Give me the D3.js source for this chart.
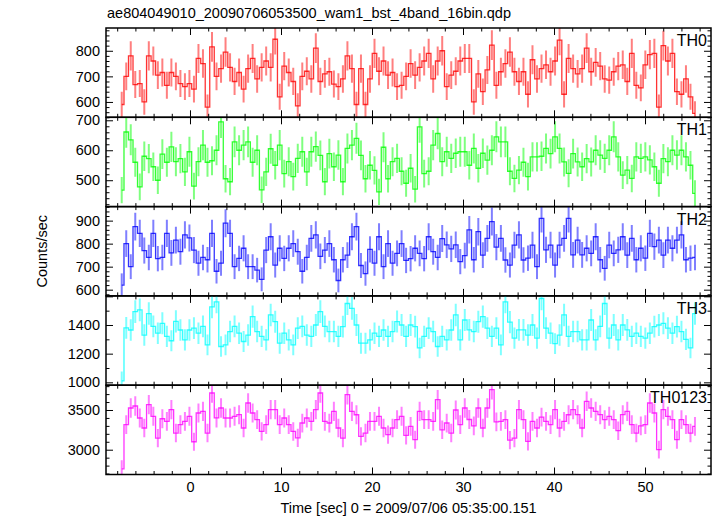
<!DOCTYPE html>
<html><head><meta charset="utf-8">
<script src="https://cdn.jsdelivr.net/npm/d3@7"></script>
<style>
html,body{margin:0;padding:0;background:#fff;}
svg text{font-family:"Liberation Sans",Arial,Helvetica,sans-serif;fill:#000;}
</style></head>
<body>
<svg id="chart" width="717" height="516"></svg>
<script>
// ---------------- data ----------------
const title = "ae804049010_20090706053500_wam1_bst_4band_16bin.qdp";
const xTitle = "Time [sec] 0 = 2009/07/06 05:35:00.151";
const yTitle = "Counts/sec";
const panelNames = ["TH0", "TH1", "TH2", "TH3", "TH0123"];
const tStart = -7.75;      // left edge of first time bin (sec)
const binWidth = 0.496;    // bin width (sec)
const xTickLabels = [0, 10, 20, 30, 40, 50];

const th0 = [590,700,780,668,672,600,780,760,705,715,665,715,700,672,660,672,650,770,750,580,815,700,730,795,735,680,715,650,730,770,690,735,760,735,845,620,740,715,680,585,700,720,690,810,680,710,718,670,660,690,780,730,590,730,590,690,790,720,760,705,715,660,665,
700,750,705,735,760,790,690,760,800,660,705,720,760,770,770,600,710,640,725,822,665,718,750,795,718,680,718,630,765,690,730,745,718,760,842,630,770,730,710,730,810,718,755,740,690,685,718,740,745,680,790,665,655,745,785,790,580,820,760,790,640,630,690,620,555];
const th1 = [467,661,635,560,478,580,572,545,500,587,560,611,562,572,528,595,480,562,617,560,565,600,695,505,495,628,600,617,628,560,600,468,528,605,550,617,522,562,512,573,595,528,595,612,583,495,589,545,584,495,606,617,640,583,505,550,533,461,610,505,562,573,530,
490,540,470,678,522,530,617,656,562,595,573,590,595,595,550,606,540,590,567,600,645,628,628,530,506,534,560,512,578,578,580,606,589,645,606,561,523,589,561,545,572,561,600,584,573,600,645,578,517,534,506,578,573,578,568,545,490,572,562,600,584,600,578,550,456];
const th2 = [620,800,700,874,845,770,740,845,735,740,845,760,815,765,838,825,772,715,740,730,845,680,715,889,845,700,736,780,700,700,685,645,772,830,707,780,736,780,800,765,680,740,823,838,745,772,800,730,640,730,750,830,874,705,670,775,715,830,700,800,715,758,800,
727,735,780,758,735,830,765,740,822,795,777,795,722,748,860,730,852,750,823,896,785,823,729,707,794,838,729,737,794,700,910,773,794,707,794,823,910,751,815,751,780,758,830,730,693,794,758,773,830,750,823,730,780,737,845,787,815,750,815,780,815,838,730,737,740];
const th3 = [1010,1380,1365,1493,1505,1330,1480,1390,1343,1412,1320,1290,1425,1365,1296,1365,1378,1343,1390,1262,1527,1562,1250,1262,1354,1390,1343,1285,1330,1458,1354,1320,1296,1470,1423,1273,1343,1296,1262,1378,1390,1330,1320,1400,1493,1390,1354,1354,1320,1389,1550,1516,1400,1273,1273,1296,1343,1320,1365,1320,1354,1424,1400,
1320,1400,1389,1240,1320,1378,1354,1250,1320,1296,1365,1470,1296,1435,1366,1354,1423,1458,1378,1320,1378,1262,1562,1420,1308,1366,1366,1330,1400,1308,1585,1378,1343,1270,1330,1470,1320,1354,1354,1296,1296,1435,1296,1390,1550,1308,1400,1296,1400,1366,1320,1343,1320,1308,1343,1389,1400,1412,1378,1343,1389,1354,1300,1240,1480];
const th0123 = [2760,3315,3525,3550,3399,3273,3567,3420,3147,3390,3357,3504,3210,3315,3357,3420,3100,3462,3483,3210,3714,3400,3525,3399,3399,3420,3441,3273,3588,3462,3378,3231,3315,3504,3504,3315,3399,3315,3230,3150,3336,3399,3357,3504,3714,3357,3336,3483,3273,3147,3693,3483,3440,3168,3210,3357,3357,3420,3273,3189,3273,3378,3420,
3180,3294,3126,3483,3378,3378,3357,3630,3250,3336,3210,3500,3315,3525,3380,3300,3525,3273,3525,3756,3350,3357,3378,3120,3147,3504,3378,3105,3357,3273,3410,3357,3315,3504,3273,3357,3440,3504,3441,3273,3609,3525,3483,3441,3378,3420,3378,3240,3441,3483,3315,3210,3300,3315,3588,3462,3000,3504,3420,3378,3126,3378,3315,3210,3294];

const seriesList = [th0, th1, th2, th3, th0123];
const yDomains = [[540, 889], [412, 710], [573, 961], [980, 1603], [2688, 3812]];
const yMajorTicks = [[600, 700, 800], [500, 600, 700], [600, 700, 800, 900], [1000, 1200, 1400], [3000, 3500]];
const yMajorStep = [100, 100, 100, 200, 500];
const yMinorStep = [20, 20, 20, 100, 100];
const colors = ["#ff0000", "#00ff00", "#0000ff", "#00ffff", "#ff00ff"];
const effExposure = 0.24;   // effective exposure used for Poisson error bars

// ---------------- layout ----------------
const plotL = 106, plotR = 711, plotT = 28, plotB = 474.5;
const nP = 5, pH = (plotB - plotT) / nP;

const svg = d3.select("#chart");
const x = d3.scaleLinear().domain([-9.23, 57.25]).range([plotL, plotR]);

svg.append("text").attr("x", 107).attr("y", 18).attr("font-size", 14.5).text(title);

const xMinor = d3.range(-8, 58, 2).filter(v => v % 10 !== 0);
const xMajor = d3.range(0, 60, 10);

seriesList.forEach((vals, p) => {
  const y0 = plotT + p * pH, y1 = y0 + pH;
  const y = d3.scaleLinear().domain(yDomains[p]).range([y1, y0]);
  const g = svg.append("g");
  const clipId = "clip" + p;
  svg.append("clipPath").attr("id", clipId).append("rect")
    .attr("x", plotL).attr("y", y0).attr("width", plotR - plotL).attr("height", pH);
  const dg = g.append("g").attr("clip-path", `url(#${clipId})`);
  const pts = vals.map((v, i) => ({t: tStart + (i + 0.5) * binWidth, v: v, e: Math.sqrt(v / effExposure)}));
  const col = colors[p];
  dg.selectAll("line.err").data(pts).enter().append("line")
    .attr("x1", d => x(d.t)).attr("x2", d => x(d.t))
    .attr("y1", d => y(d.v - d.e)).attr("y2", d => y(d.v + d.e))
    .attr("stroke", col).attr("stroke-opacity", 0.5).attr("stroke-width", 2);
  dg.append("path").datum(pts)
    .attr("d", d3.line().x(d => x(d.t)).y(d => y(d.v)).curve(d3.curveStep))
    .attr("fill", "none").attr("stroke", col).attr("stroke-width", 1.3).attr("stroke-opacity", 0.8);

  const yMin = d3.range(Math.ceil(yDomains[p][0] / yMinorStep[p]) * yMinorStep[p], yDomains[p][1], yMinorStep[p])
    .filter(v => v % yMajorStep[p] !== 0);
  const yMaj = d3.range(Math.ceil(yDomains[p][0] / yMajorStep[p]) * yMajorStep[p], yDomains[p][1], yMajorStep[p]);
  g.append("g").attr("transform", `translate(${plotL},0)`)
    .call(d3.axisLeft(y).tickValues(yMaj).tickSize(-7).tickPadding(6)
      .tickFormat(v => yMajorTicks[p].includes(v) ? String(v) : ""));
  g.append("g").attr("transform", `translate(${plotL},0)`)
    .call(d3.axisLeft(y).tickValues(yMin).tickSize(-3.5).tickFormat(""));
  g.append("g").attr("transform", `translate(${plotR},0)`)
    .call(d3.axisRight(y).tickValues(yMaj).tickSize(-7).tickFormat(""));
  g.append("g").attr("transform", `translate(${plotR},0)`)
    .call(d3.axisRight(y).tickValues(yMin).tickSize(-3.5).tickFormat(""));
  g.append("g").attr("transform", `translate(0,${y0})`)
    .call(d3.axisTop(x).tickValues(xMajor).tickSize(-7).tickFormat(""));
  g.append("g").attr("transform", `translate(0,${y0})`)
    .call(d3.axisTop(x).tickValues(xMinor).tickSize(-3.5).tickFormat(""));
  g.append("g").attr("transform", `translate(0,${y1})`)
    .call(d3.axisBottom(x).tickValues(xMajor).tickSize(-7).tickPadding(7)
      .tickFormat(v => p === nP - 1 && xTickLabels.includes(v) ? String(v) : ""));
  g.append("g").attr("transform", `translate(0,${y1})`)
    .call(d3.axisBottom(x).tickValues(xMinor).tickSize(-3.5).tickFormat(""));
  g.selectAll(".domain").remove();
  g.selectAll(".tick line").attr("stroke", "#000").attr("stroke-width", 1);
  g.selectAll(".tick text").attr("font-size", 14.5).attr("font-family", "Liberation Sans, Arial, sans-serif").attr("fill", "#000");
  g.append("rect").attr("x", plotL).attr("y", y0).attr("width", plotR - plotL).attr("height", pH)
    .attr("fill", "none").attr("stroke", "#000").attr("stroke-width", 1.5);
  g.append("text").attr("x", plotR - 4).attr("y", y0 + 18).attr("text-anchor", "end")
    .attr("font-size", 16).text(panelNames[p]);
});

svg.append("text").attr("x", (plotL + plotR) / 2).attr("y", 513).attr("text-anchor", "middle")
  .attr("font-size", 14.5).text(xTitle);
svg.append("text").attr("transform", `translate(47,${(plotT + plotB) / 2}) rotate(-90)`)
  .attr("text-anchor", "middle").attr("font-size", 14.5).text(yTitle);
</script>
</body></html>
